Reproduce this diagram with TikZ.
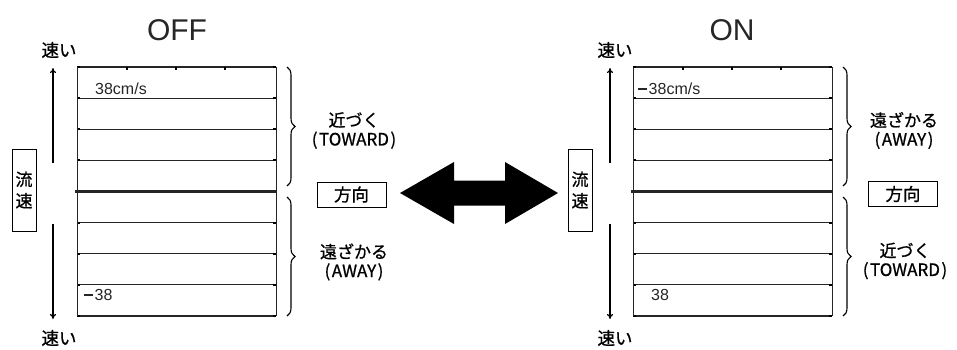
\documentclass[tikz,border=0pt]{standalone}
\usepackage{fontspec}
\setmainfont{Liberation Sans}
\newfontfamily\jp[FakeBold=0.8]{Noto Sans CJK JP}
\usetikzlibrary{decorations.pathreplacing,arrows.meta}
\newcommand{\mydash}{\rule[0.3em]{9pt}{1.8pt}\hspace{1.5pt}}
\begin{document}
\begin{tikzpicture}[x=1pt,y=-1pt,
  rowline/.style={line width=1.1pt,color=black!85},
  midline/.style={line width=3pt,color=black!85},
  boxedge/.style={line width=0.9pt,color=black!85},
  jptext/.style={font=\jp\fontsize{17.5}{19}\selectfont,inner sep=0pt},
  jpsmall/.style={font=\jp\fontsize{17}{19}\selectfont,inner sep=0pt,align=center},
  numtext/.style={font=\fontsize{16}{18}\selectfont,inner sep=0pt,anchor=west,color=black!85},
  title/.style={font=\fontsize{30}{32}\selectfont,inner sep=0pt,color=black!85},
  vbox/.style={draw,line width=0.9pt,font=\jp\fontsize{17}{21.5}\selectfont,align=center,minimum width=24pt,minimum height=82pt,inner sep=0pt},
  hbox/.style={draw,line width=0.9pt,font=\jp\fontsize{17.5}{19}\selectfont,minimum width=69pt,minimum height=25pt,inner sep=0pt},
  speed/.style={line width=1.1pt,-{To[length=5pt,width=6pt]}},
  brc/.style={decorate,decoration={brace,amplitude=8pt,raise=0pt},line width=1.1pt}
]
\useasboundingbox (0,0) rectangle (957,349);

% ---------------- OFF panel ----------------
\node[title] (offT) at (177,30) {OFF};
\node[jptext] (offF1) at (59,50) {速い};
\node[jptext] (offF2) at (59,338) {速い};
\foreach \k in {0,1,2,3,5,6,7,8} {
  \draw[rowline] (77,{67+31.125*\k}) -- (276,{67+31.125*\k});
  \draw[line width=2pt] (77,{67+31.125*\k}) -- (80,{67+31.125*\k});
  \draw[line width=2pt] (273,{67+31.125*\k}) -- (276,{67+31.125*\k});
}
\draw[midline] (75,191.5) -- (277,191.5);
\draw[boxedge] (77,67) -- (77,316) (276,67) -- (276,316);
\foreach \x in {127,176,225} { \draw[line width=1.1pt] (\x,67) -- (\x,70); }
\node[numtext] (offN1) at (95,89) {38cm/s};
\node[numtext] (offN2) at (84,295) {\mydash 38};
\coordinate (offA1) at (53,163);
\coordinate (offA1t) at (53,68);
\coordinate (offA2) at (53,224);
\coordinate (offA2t) at (53,319);
\draw[speed] (offA1) -- (offA1t);
\draw[speed] (offA2) -- (offA2t);
\node[vbox] (offV) at (24,190) {流\\速};
\coordinate (offB1a) at (287,67);
\coordinate (offB1b) at (287,186);
\coordinate (offB2a) at (287,197);
\coordinate (offB2b) at (287,316);
\draw[brc] (offB1a) -- (offB1b);
\draw[brc] (offB2a) -- (offB2b);
\node[jpsmall] (offL1) at (354,130.5) {近づく\\(\hspace{1.5pt}TOWARD\hspace{1.5pt})};
\node[jpsmall] (offL2) at (354,262) {遠ざかる\\(\hspace{1.5pt}AWAY\hspace{1.5pt})};
\node[hbox] (offH) at (351.5,194.5) {方向};

% ---------------- big double arrow ----------------
\fill[black] (400,193) -- (454,162) -- (454,180.5) -- (505,180.5) -- (505,162)
  -- (558,193) -- (505,224) -- (505,205.5) -- (454,205.5) -- (454,224) -- cycle;

% ---------------- ON panel ----------------
\node[title] (onT) at (732,30) {ON};
\node[jptext] (onF1) at (615,50) {速い};
\node[jptext] (onF2) at (615,338) {速い};
\foreach \k in {0,1,2,3,5,6,7,8} {
  \draw[rowline] (633,{67+31.125*\k}) -- (832,{67+31.125*\k});
  \draw[line width=2pt] (633,{67+31.125*\k}) -- (636,{67+31.125*\k});
  \draw[line width=2pt] (829,{67+31.125*\k}) -- (832,{67+31.125*\k});
}
\draw[midline] (631,191.5) -- (833,191.5);
\draw[boxedge] (633,67) -- (633,316) (832,67) -- (832,316);
\foreach \x in {683,732,781} { \draw[line width=1.1pt] (\x,67) -- (\x,70); }
\node[numtext] (onN1) at (638,89) {\mydash 38cm/s};
\node[numtext] (onN2) at (651,295) {38};
\coordinate (onA1) at (610,163);
\coordinate (onA1t) at (610,68);
\coordinate (onA2) at (610,224);
\coordinate (onA2t) at (610,319);
\draw[speed] (onA1) -- (onA1t);
\draw[speed] (onA2) -- (onA2t);
\node[vbox] (onV) at (580,190) {流\\速};
\coordinate (onB1a) at (843,67);
\coordinate (onB1b) at (843,186);
\coordinate (onB2a) at (843,197);
\coordinate (onB2b) at (843,316);
\draw[brc] (onB1a) -- (onB1b);
\draw[brc] (onB2a) -- (onB2b);
\node[jpsmall] (onL1) at (904,130.5) {遠ざかる\\(\hspace{1.5pt}AWAY\hspace{1.5pt})};
\node[jpsmall] (onL2) at (905,261) {近づく\\(\hspace{1.5pt}TOWARD\hspace{1.5pt})};
\node[hbox] (onH) at (903,194) {方向};
\end{tikzpicture}
\end{document}
